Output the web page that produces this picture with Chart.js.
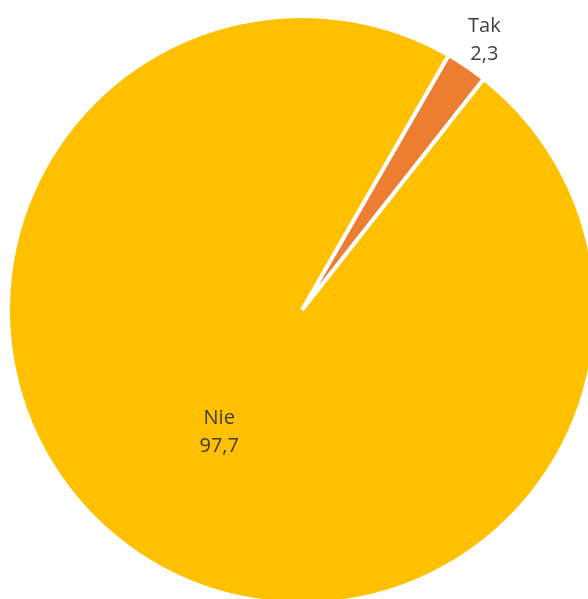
<!DOCTYPE html>
<html>
<head>
<meta charset="utf-8">
<script src="https://cdn.jsdelivr.net/npm/chart.js@4/dist/chart.umd.min.js"></script>
<style>
  html, body { margin: 0; padding: 0; background: #ffffff; overflow: hidden; width: 588px; height: 599px; }
  #wrap { position: absolute; left: 0; top: 0; width: 604px; height: 620px; }
</style>
</head>
<body>
<div id="wrap"><canvas id="c" width="604" height="620"></canvas></div>
<script>
const categories = ['Tak', 'Nie'];
const values = [2.3, 97.7];
const valueLabels = ['2,3', '97,7'];
const sliceColors = ['#ED7D31', '#FFC000'];

const labelPlugin = {
  id: 'sliceLabels',
  afterDatasetsDraw(chart) {
    const ctx = chart.ctx;
    const meta = chart.getDatasetMeta(0);
    const factors = [1.108, 0.503];
    ctx.save();
    ctx.font = '20px "Open Sans", sans-serif';
    ctx.fillStyle = '#404040';
    ctx.textAlign = 'center';
    ctx.textBaseline = 'middle';
    meta.data.forEach((arc, i) => {
      const p = arc.getProps(['x', 'y', 'startAngle', 'endAngle', 'outerRadius'], true);
      const mid = (p.startAngle + p.endAngle) / 2;
      const r = p.outerRadius * factors[i];
      const cx = p.x + Math.cos(mid) * r;
      const cy = p.y + Math.sin(mid) * r;
      ctx.fillText(categories[i], cx, cy - 14);
      ctx.fillText(valueLabels[i], cx, cy + 14);
    });
    ctx.restore();
  }
};

new Chart(document.getElementById('c'), {
  type: 'pie',
  data: {
    labels: categories,
    datasets: [{
      data: values,
      backgroundColor: sliceColors,
      borderColor: '#ffffff',
      borderWidth: 4,
      radius: 294
    }]
  },
  options: {
    responsive: false,
    animation: false,
    rotation: 29.9,
    layout: { padding: 0 },
    plugins: {
      legend: { display: false },
      tooltip: { enabled: false }
    }
  },
  plugins: [labelPlugin]
});
</script>
</body>
</html>
